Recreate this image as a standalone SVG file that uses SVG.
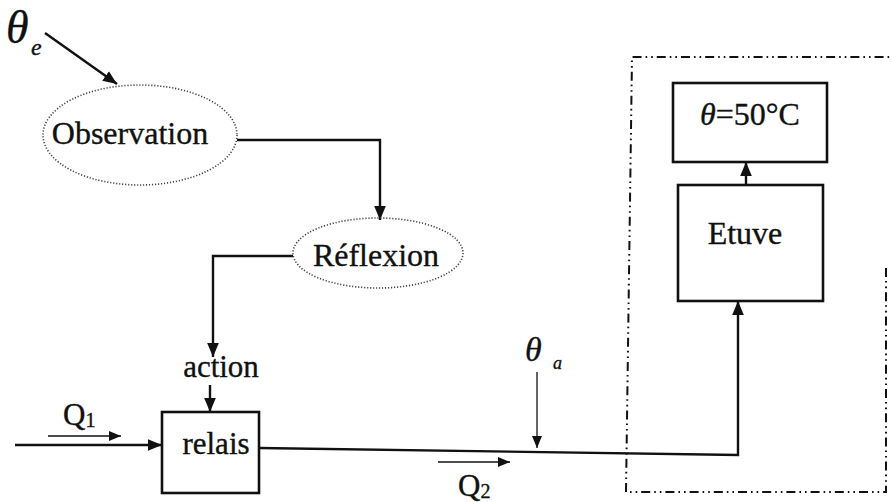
<svg xmlns="http://www.w3.org/2000/svg" width="891" height="502" viewBox="0 0 891 502">
  <style>
    .t { font-family: "Liberation Serif", "Times New Roman", serif; fill: #111; stroke: #111; stroke-width: 0.35; }
    .it { font-style: italic; }
    .ell { fill: none; stroke: #444; stroke-width: 1.6; stroke-dasharray: 1.2 1.8; }
    .box { fill: #fff; stroke: #111; stroke-width: 2.6; }
    .wire { fill: none; stroke: #111; stroke-width: 2.4; }
    .thin { fill: none; stroke: #111; stroke-width: 1.3; }
    .frame { fill: none; stroke: #111; stroke-width: 2; stroke-dasharray: 9 4 1.6 4 1.6 4; }
  </style>
  <defs>
    <marker id="ah" viewBox="0 0 12 10" refX="12" refY="5" markerWidth="14" markerHeight="12" markerUnits="userSpaceOnUse" orient="auto">
      <path d="M0,0 L12,5 L0,10 z" fill="#111"/>
    </marker>
    <marker id="ahs" viewBox="0 0 12 10" refX="12" refY="5" markerWidth="13" markerHeight="10" markerUnits="userSpaceOnUse" orient="auto">
      <path d="M0,0 L12,5 L0,10 z" fill="#111"/>
    </marker>
  </defs>
  <rect width="891" height="502" fill="#fff"/>

  <!-- system boundary (dash-dot-dot) -->
  <path class="frame" d="M886,268 V492 H626 L632,57 H891"/>

  <g id="connectors">
    <path class="wire" d="M45,33 L117,84" marker-end="url(#ah)"/>
    <path class="wire" d="M237,140 H380 V220" marker-end="url(#ah)"/>
    <path class="wire" d="M293,256 H213 V357" marker-end="url(#ah)"/>
    <path class="wire" d="M210,385 V412" marker-end="url(#ah)"/>
    <path class="wire" d="M15,445 H162" marker-end="url(#ah)"/>
    <path class="wire" d="M48,436 H121" marker-end="url(#ahs)" style="stroke-width:1.6"/>
    <path class="wire" d="M259,448 L738,455 V301" marker-end="url(#ah)"/>
    <path class="thin" d="M537,372 V448" marker-end="url(#ahs)"/>
    <path class="wire" d="M438,462 H510" marker-end="url(#ahs)" style="stroke-width:1.6"/>
    <path class="wire" d="M746,185 V162" marker-end="url(#ah)"/>
  </g>

  <g id="theta-e">
    <text class="t it" x="6" y="43" font-size="46">θ</text>
    <text class="t it" x="31" y="55" font-size="24">e</text>
  </g>

  <g id="observation">
    <ellipse class="ell" cx="140" cy="135" rx="97" ry="50"/>
    <text class="t" x="130" y="144" font-size="32" text-anchor="middle">Observation</text>
  </g>

  <g id="reflexion">
    <ellipse class="ell" cx="378" cy="253" rx="85" ry="35"/>
    <text class="t" x="376" y="266" font-size="32" text-anchor="middle">Réflexion</text>
  </g>

  <g id="action">
    <text class="t" x="221" y="377" font-size="31" text-anchor="middle">action</text>
  </g>

  <g id="relais">
    <rect class="box" x="162" y="412" width="97" height="81"/>
    <text class="t" x="216" y="454" font-size="31" text-anchor="middle">relais</text>
  </g>

  <g id="q1">
    <text class="t" x="63" y="425" font-size="31">Q<tspan font-size="20" dy="2">1</tspan></text>
  </g>

  <g id="q2">
    <text class="t" x="458" y="496" font-size="31">Q<tspan font-size="20" dy="2">2</tspan></text>
  </g>

  <g id="theta-a">
    <text class="t it" x="525" y="361" font-size="34">θ</text>
    <text class="t it" x="553" y="369" font-size="18">a</text>
  </g>

  <g id="etuve">
    <rect class="box" x="678" y="185" width="145" height="116"/>
    <text class="t" x="745" y="244" font-size="32" text-anchor="middle">Etuve</text>
  </g>

  <g id="consigne">
    <rect class="box" x="673" y="83" width="154" height="79"/>
    <text class="t" x="750" y="125" font-size="32" text-anchor="middle"><tspan class="it">θ</tspan>=50°C</text>
  </g>
</svg>
